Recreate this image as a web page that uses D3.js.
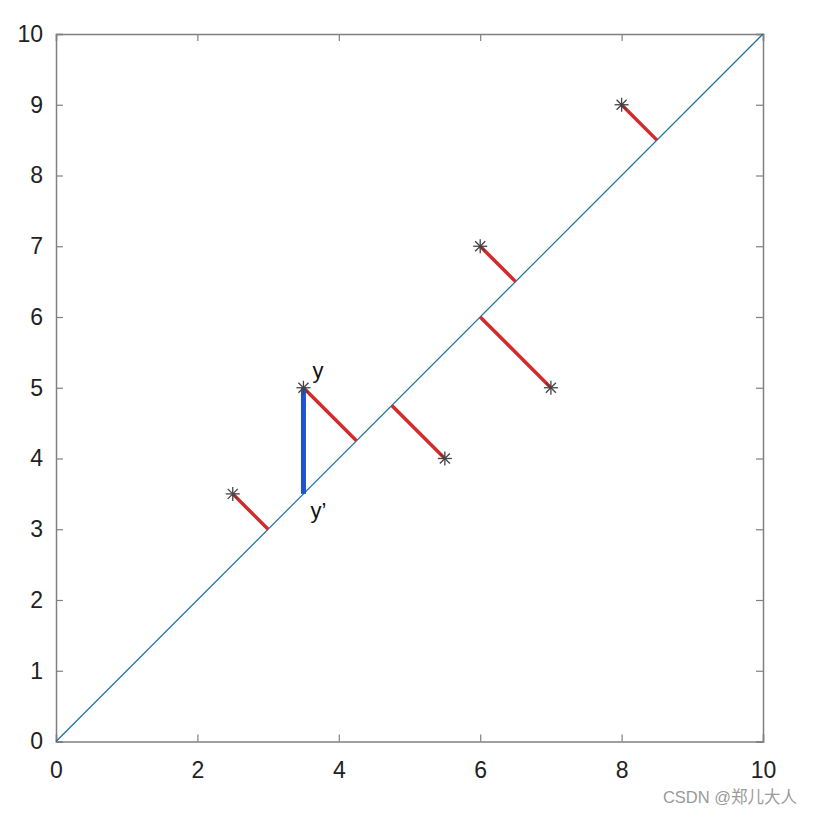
<!DOCTYPE html>
<html><head><meta charset="utf-8">
<script src="https://cdn.jsdelivr.net/npm/d3@7"></script>
<style>body{margin:0;background:#fff}svg{display:block}</style>
</head><body>
<svg id="c" width="814" height="816"></svg>
<script>
const ticks = [0,1,2,3,4,5,6,7,8,9,10];
const xTicks = [0,2,4,6,8,10];
const lineX = [0,10];
const lineY = [0,10];
const pointsX = [2.5,3.5,5.5,6,7,8];
const pointsY = [3.5,5,4,7,5,9];
const projX = [3,4.25,4.75,6.5,6,8.5];
const projY = [3,4.25,4.75,6.5,6,8.5];
const blueX = [3.5,3.5];
const blueY = [5,3.5];
const labels = [{t:"y", x:3.5, y:5}, {t:"y\u2019", x:3.5, y:3.5}];

const svg = d3.select("#c");
const L=56,R=763,T=34,B=741.5;
const x = d3.scaleLinear().domain([0,10]).range([L,R]);
const y = d3.scaleLinear().domain([0,10]).range([B,T]);
const font = "Liberation Sans, Arial, sans-serif";
const axCol = "#808080";

// axes
const gx = svg.append("g").attr("transform",`translate(0,${B})`)
  .call(d3.axisBottom(x).tickValues(xTicks).tickSize(-7).tickPadding(20).tickFormat(d3.format("d")));
const gy = svg.append("g").attr("transform",`translate(${L},0)`)
  .call(d3.axisLeft(y).tickValues(ticks).tickSize(-7).tickPadding(13).tickFormat(d3.format("d")));
const gt = svg.append("g").attr("transform",`translate(0,${T})`)
  .call(d3.axisTop(x).tickValues(xTicks).tickSize(-7).tickFormat(""));
const gr = svg.append("g").attr("transform",`translate(${R},0)`)
  .call(d3.axisRight(y).tickValues(ticks).tickSize(-7).tickFormat(""));
[gx,gy,gt,gr].forEach(g=>{
  g.select(".domain").attr("stroke",axCol).attr("stroke-width",1.5);
  g.selectAll(".tick line").attr("stroke",axCol).attr("stroke-width",1.2);
  g.selectAll(".tick text").attr("fill","#222").style("font-size","23px").style("font-family",font);
});

// diagonal
svg.append("line").attr("x1",x(lineX[0])).attr("y1",y(lineY[0])).attr("x2",x(lineX[1])).attr("y2",y(lineY[1]))
  .attr("stroke","#1a6fa8").attr("stroke-width",1.2);

// red residuals
svg.append("g").selectAll("line").data(pointsX).join("line")
  .attr("x1",(d,i)=>x(pointsX[i])).attr("y1",(d,i)=>y(pointsY[i]))
  .attr("x2",(d,i)=>x(projX[i])).attr("y2",(d,i)=>y(projY[i]))
  .attr("stroke","#d42a2a").attr("stroke-width",3.5);

// blue vertical
svg.append("line").attr("x1",x(blueX[0])).attr("y1",y(blueY[0])).attr("x2",x(blueX[1])).attr("y2",y(blueY[1]))
  .attr("stroke","#1f52d0").attr("stroke-width",5);

// asterisk markers
const s = 7;
const mg = svg.append("g").selectAll("g").data(pointsX).join("g")
  .attr("transform",(d,i)=>`translate(${x(pointsX[i])},${y(pointsY[i])})`)
  .attr("stroke","#444").attr("stroke-width",1.3);
mg.append("line").attr("x1",-s).attr("x2",s).attr("y1",0).attr("y2",0);
mg.append("line").attr("x1",0).attr("x2",0).attr("y1",-s).attr("y2",s);
mg.append("line").attr("x1",-s*0.72).attr("x2",s*0.72).attr("y1",-s*0.72).attr("y2",s*0.72);
mg.append("line").attr("x1",-s*0.72).attr("x2",s*0.72).attr("y1",s*0.72).attr("y2",-s*0.72);

// labels
svg.append("text").attr("x",x(labels[0].x)+9).attr("y",y(labels[0].y)-10)
  .text(labels[0].t).attr("font-size",22).attr("font-family",font).attr("fill","#111");
svg.append("text").attr("x",x(labels[1].x)+7).attr("y",y(labels[1].y)+24)
  .text(labels[1].t).attr("font-size",22).attr("font-family",font).attr("fill","#111");

// watermark
svg.append("text").attr("x",797).attr("y",803).attr("text-anchor","end")
  .text("CSDN @郑儿大人").attr("font-size",16.5).attr("fill","#9a9a9a")
  .attr("font-family","Liberation Sans, 'Noto Sans CJK SC', sans-serif");
</script>
</body></html>
